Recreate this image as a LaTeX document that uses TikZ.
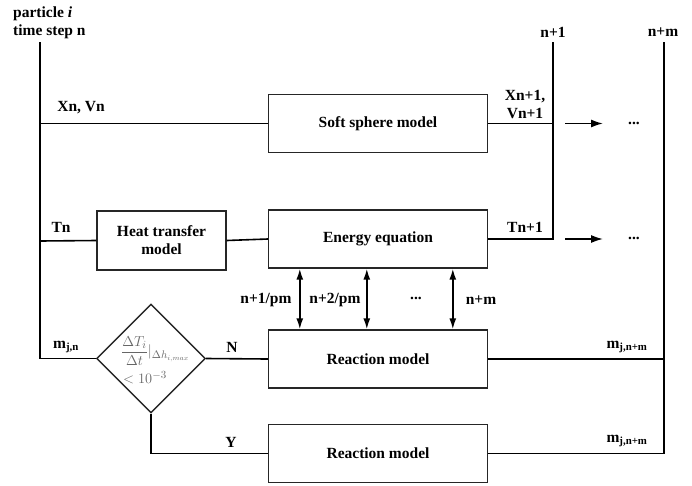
\documentclass[tikz,border=0pt]{standalone}
\usepackage{fontspec}
\setmainfont{Liberation Serif}
\usetikzlibrary{shapes.geometric,arrows.meta}
\begin{document}
\begin{tikzpicture}[x=1pt,y=-1pt,
  every node/.style={font=\fontsize{15.5}{18}\selectfont\bfseries},
  box/.style={draw=black!85,line width=1.4pt,minimum width=219pt,minimum height=58pt,align=center,inner sep=0pt},
  ln/.style={line width=1.6pt},
  arr/.style={line width=1.6pt,-{Latex[length=12pt,width=8pt]}},
  dbl/.style={line width=1.6pt,{Latex[length=11pt,width=7pt]}-{Latex[length=11pt,width=7pt]}},
  lbl/.style={inner sep=1pt},
  mth/.style={text=black!60,font=\fontsize{15}{17}\selectfont,inner sep=0pt}]
\useasboundingbox (0,0) rectangle (692,485);
% title
\node[lbl,anchor=west,align=left] (title) at (12,23) {particle \textit{i}\\time step n};
% boxes
\node[box] (soft) at (378,123.5) {Soft sphere model};
\node[box] (energy) at (378,239) {Energy equation};
\node[box,minimum width=129pt,minimum height=59pt] (heat) at (161.5,240.5) {Heat transfer\\model};
\node[box] (react1) at (378,359) {Reaction model};
\node[box] (react2) at (378,453.5) {Reaction model};
\node[draw=black!85,line width=1.4pt,diamond,aspect=1,minimum size=109pt,inner sep=0pt] (dia) at (151,358.5) {};
\node[mth,anchor=west] (cond1) at (121,351)
  {$\displaystyle\frac{\Delta T_i}{\Delta t}|_{\Delta h_{i,max}}$};
\node[mth,anchor=west] (cond2) at (123,378) {$<10^{-3}$};
% coordinates
\coordinate (lt) at (40,42);
\coordinate (lb) at (40,358.5);
\coordinate (lx) at (40,123.5);
\coordinate (lh) at (40,241);
\coordinate (n1t) at (553,42);
\coordinate (n1b) at (553,239);
\coordinate (nmt) at (664,42);
\coordinate (nmb) at (664,453.5);
\coordinate (nmr) at (664,359);
\coordinate (a1s) at (565,123.5);
\coordinate (a1e) at (603,123.5);
\coordinate (a2s) at (565,239);
\coordinate (a2e) at (603,239);
% lines
\draw[ln] (lt) -- (lb) -- (dia.west);
\draw[ln] (lx) -- (soft.west);
\draw[ln] (lh) -- (heat.west);
\draw[ln] (heat.east) -- (energy.west);
\draw[ln] (soft.east) -- (553,123.5);
\draw[ln] (n1t) -- (n1b) -- (energy.east);
\draw[ln] (nmt) -- (nmb) -- (react2.east);
\draw[ln] (react1.east) -- (nmr);
\draw[ln] (dia.east) -- (react1.west);
\draw[ln] (dia.south) |- (react2.west);
\draw[arr] (a1s) -- (a1e);
\draw[arr] (a2s) -- (a2e);
\draw[dbl] ([xshift=32pt]energy.south west) -- ([xshift=32pt]react1.north west);
\draw[dbl] ([xshift=99pt]energy.south west) -- ([xshift=99pt]react1.north west);
\draw[dbl] ([xshift=185pt]energy.south west) -- ([xshift=185pt]react1.north west);
% labels
\node[lbl] (lxv) at (81,108) {Xn, Vn};
\node[lbl] (ltn) at (61,227) {Tn};
\node[lbl] (lmjn) at (66,347) {m\textsubscript{j,n}};
\node[lbl] (lN) at (232,347) {N};
\node[lbl] (lY) at (231,442) {Y};
\node[lbl,align=center] (lxv1) at (525,104) {Xn+1,\\Vn+1};
\node[lbl] (ltn1) at (525,227) {Tn+1};
\node[lbl] (ln1) at (553,32) {n+1};
\node[lbl] (lnm) at (663,32) {n+m};
\node[lbl] (d1) at (634,123) {...};
\node[lbl] (d2) at (634,238) {...};
\node[lbl] (p1) at (266,300) {n+1/pm};
\node[lbl] (p2) at (335,300) {n+2/pm};
\node[lbl] (p3) at (416,298) {...};
\node[lbl] (p4) at (481,300) {n+m};
\node[lbl] (lm1) at (627,347) {m\textsubscript{j,n+m}};
\node[lbl] (lm2) at (627,441) {m\textsubscript{j,n+m}};
\end{tikzpicture}
\end{document}
